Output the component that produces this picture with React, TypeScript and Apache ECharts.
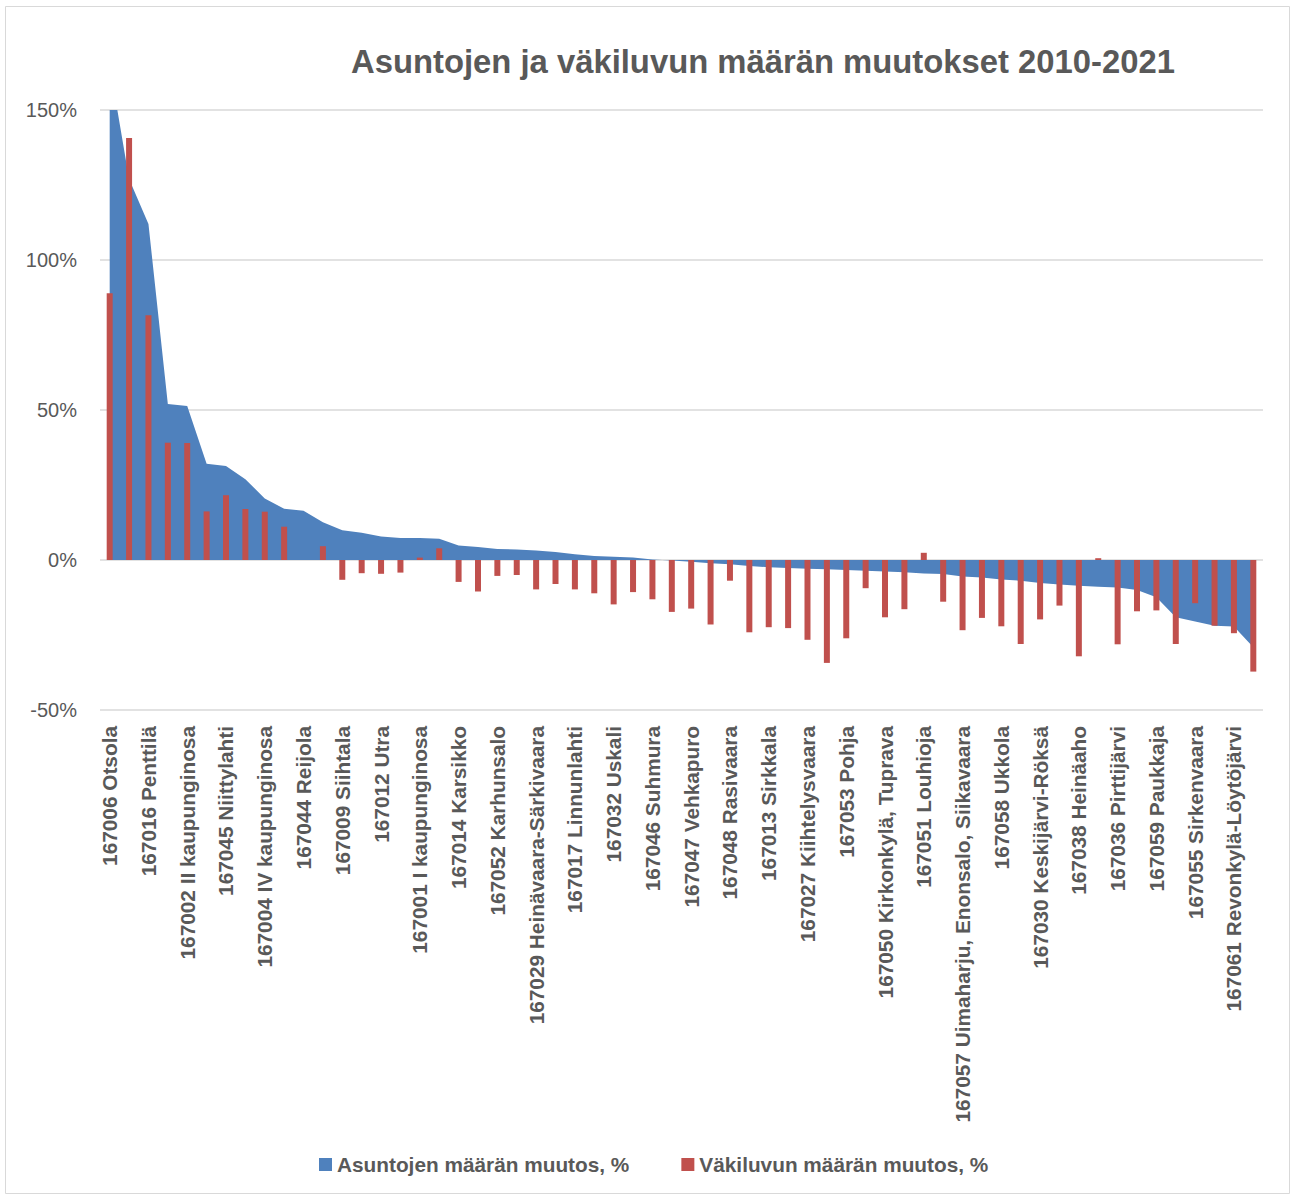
import React, { useEffect, useRef } from "react";
import * as echarts from "echarts";

const titleText = "Asuntojen ja väkiluvun määrän muutokset 2010-2021";
const housingName = "Asuntojen määrän muutos, %";
const populationName = "Väkiluvun määrän muutos, %";

// Labelled (every other) statistical areas, in chart order
const labeledAreas = [
  "167006 Otsola",
  "167016 Penttilä",
  "167002 II kaupunginosa",
  "167045 Niittylahti",
  "167004 IV kaupunginosa",
  "167044 Reijola",
  "167009 Siihtala",
  "167012 Utra",
  "167001 I kaupunginosa",
  "167014 Karsikko",
  "167052 Karhunsalo",
  "167029 Heinävaara-Särkivaara",
  "167017 Linnunlahti",
  "167032 Uskali",
  "167046 Suhmura",
  "167047 Vehkapuro",
  "167048 Rasivaara",
  "167013 Sirkkala",
  "167027 Kiihtelysvaara",
  "167053 Pohja",
  "167050 Kirkonkylä, Tuprava",
  "167051 Louhioja",
  "167057 Uimaharju, Enonsalo, Siikavaara",
  "167058 Ukkola",
  "167030 Keskijärvi-Röksä",
  "167038 Heinäaho",
  "167036 Pirttijärvi",
  "167059 Paukkaja",
  "167055 Sirkenvaara",
  "167061 Revonkylä-Löytöjärvi",
];

// Unlabelled areas between them (names not shown in the chart)
const unlabeledAreas = labeledAreas.map((_, i) => `alue ${2 * i + 2}`);

const categories = labeledAreas.flatMap((n, i) => [n, unlabeledAreas[i]]);

const housingChange = [
  165, 127, 112, 52, 51.3, 32.1, 31.3, 26.9, 20.5, 17.1,
  16.4, 12.6, 9.9, 9.1, 7.8, 7.3, 7.3, 7.1, 4.8, 4.3,
  3.7, 3.5, 3.2, 2.7, 1.9, 1.3, 1.1, 0.8, 0.2, -0.2,
  -0.6, -1.1, -1.4, -2.0, -2.4, -2.7, -2.9, -3.1, -3.3, -3.6,
  -3.8, -4.1, -4.5, -4.7, -5.5, -5.8, -6.5, -6.9, -7.7, -8.2,
  -8.6, -8.9, -9.2, -10.0, -12.4, -19.1, -20.5, -21.9, -22.2, -29.1,
];

const populationChange = [
  88.9, 140.7, 81.6, 39.1, 39.0, 16.2, 21.6, 17.0, 16.1, 11.1,
  0, 4.6, -6.6, -4.4, -4.6, -4.2, 0.8, 3.9, -7.3, -10.5,
  -5.3, -5.0, -9.8, -8.0, -9.8, -11.1, -14.8, -10.7, -13.1, -17.3,
  -16.2, -21.5, -6.9, -24.1, -22.4, -22.7, -26.6, -34.3, -26.1, -9.4,
  -19.1, -16.4, 2.4, -13.9, -23.4, -19.3, -22.1, -28.0, -19.8, -15.2,
  -32.1, 0.6, -28.1, -17.1, -16.8, -28.0, -14.4, -21.9, -24.4, -37.2,
];

const yTicks = { min: -50, max: 150, interval: 50 };

const TEXT = "#595959";
const BLUE = "#4f81bd";
const RED = "#c0504d";
const FONT = "'Liberation Sans', Arial, sans-serif";

export default function App() {
  const ref = useRef<HTMLDivElement>(null);

  useEffect(() => {
    if (!ref.current) return;
    const chart = echarts.init(ref.current, null, { renderer: "svg" });
    chart.setOption({
      animation: false,
      color: [BLUE, RED],
      textStyle: { fontFamily: FONT },
      title: {
        text: titleText,
        left: 346,
        top: 40,
        textStyle: {
          fontFamily: FONT,
          fontSize: 32.8,
          fontWeight: "bold",
          color: TEXT,
        },
      },
      legend: {
        left: 314,
        top: 1149,
        icon: "rect",
        itemWidth: 13,
        itemHeight: 13,
        itemGap: 52,
        textStyle: {
          fontFamily: FONT,
          fontSize: 20.8,
          fontWeight: "bold",
          color: TEXT,
        },
        data: [housingName, populationName],
      },
      graphic: [
        {
          type: "rect",
          shape: { x: 5.5, y: 6.5, width: 1284, height: 1187 },
          style: { fill: "none", stroke: "#d9d9d9", lineWidth: 1 },
          silent: true,
        },
      ],
      grid: { left: 100, right: 30, top: 110, bottom: 486 },
      xAxis: {
        type: "category",
        data: categories,
        boundaryGap: true,
        axisLine: { show: false },
        axisTick: { show: false },
        splitLine: { show: false },
        axisLabel: {
          interval: 1,
          rotate: 90,
          margin: 16,
          fontFamily: FONT,
          fontSize: 20.8,
          fontWeight: "bold",
          color: TEXT,
        },
      },
      yAxis: {
        type: "value",
        min: yTicks.min,
        max: yTicks.max,
        interval: yTicks.interval,
        axisLine: { show: false },
        axisTick: { show: false },
        splitLine: { lineStyle: { color: "#d9d9d9", width: 1.5 } },
        axisLabel: {
          formatter: "{value}%",
          margin: 23,
          fontFamily: FONT,
          fontSize: 20,
          color: TEXT,
        },
      },
      series: [
        {
          name: housingName,
          type: "line",
          data: housingChange,
          symbol: "none",
          showSymbol: false,
          lineStyle: { width: 0, color: BLUE },
          itemStyle: { color: BLUE },
          areaStyle: { color: BLUE, opacity: 1 },
          z: 1,
        },
        {
          name: populationName,
          type: "bar",
          data: populationChange,
          barWidth: 6,
          itemStyle: { color: RED },
          z: 2,
        },
      ],
    });
    return () => chart.dispose();
  }, []);

  return (
    <div
      ref={ref}
      style={{ position: "absolute", left: 0, top: 0, width: 1293, height: 1196, background: "#fff" }}
    />
  );
}
